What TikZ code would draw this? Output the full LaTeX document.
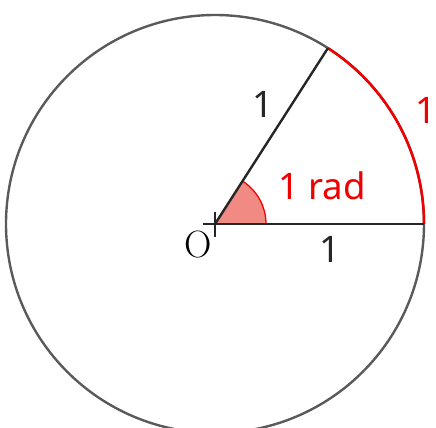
\documentclass[tikz,border=0pt]{standalone}
\usepackage{fontspec}
\setsansfont{Noto Sans}
\usepackage{tikz}
\usetikzlibrary{positioning,calc}

\definecolor{rimgray}{HTML}{5A5A5A}
\definecolor{radred}{HTML}{F00000}
\definecolor{wedge}{HTML}{F28A84}

\begin{document}
\begin{tikzpicture}[x=0.025cm, y=0.025cm,
        rim/.style={draw=rimgray, line width=1.7pt},
        ray/.style={draw=black!85, line width=1.7pt},
        arcred/.style={draw=radred, line width=1.8pt},
        lbl/.style={font=\sffamily\fontsize{26}{30}\selectfont, text=black!85, inner sep=0pt},
        redlbl/.style={lbl, text=radred},
    ]
    \useasboundingbox (-215,-204) rectangle (221,224);

    % centre and points on the circle
    \coordinate (O) at (0,0);
    \coordinate (A) at (0:209);
    \coordinate (P) at (57.3:209);

    % shaded angle
    \fill[wedge] (O) -- (0:51) arc[start angle=0, end angle=57.3, radius=51] -- cycle;
    \draw[radred, line width=0.9pt] (0:51) arc[start angle=0, end angle=57.3, radius=51];

    % unit circle and the arc of length 1
    \draw[rim] (O) circle[radius=209];
    \draw[arcred] (A) arc[start angle=0, end angle=57.3, radius=209];

    % the two radii and the cross at O
    \draw[ray] (-12,0) -- (A);
    \draw[ray] (O) -- (P);
    \draw[ray] (0,12) -- (0,-13);

    % labels
    \node[font=\rmfamily\fontsize{27}{30}\selectfont, inner sep=0pt] (olbl) at (-17,-21) {O};
    \node[lbl] (r1) at (48,120) {1};
    \node[lbl] (r2) at (115,-25) {1};
    \node[redlbl] (arclbl) at (211,114) {1};
    \node[redlbl] (radlbl) at (107,38) {1 rad};
\end{tikzpicture}
\end{document}
